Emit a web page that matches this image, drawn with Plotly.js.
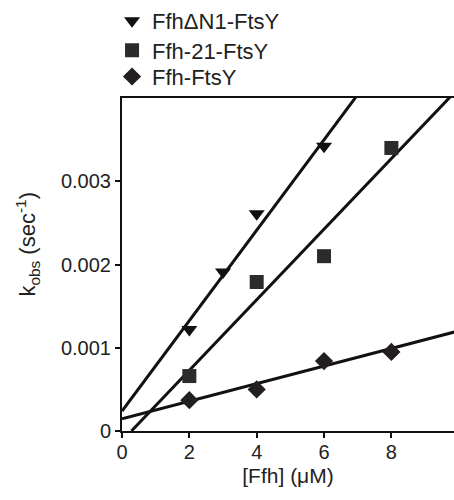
<!DOCTYPE html>
<html>
<head>
<meta charset="utf-8">
<script src="https://cdn.plot.ly/plotly-3.0.1.min.js"></script>
<style>html,body{margin:0;padding:0;background:#fff;}#chart{width:454px;height:500px;}</style>
</head>
<body>
<div id="chart"></div>
<script>
// Data
const seriesNames = ["Ffh\u0394N1-FtsY", "Ffh-21-FtsY", "Ffh-FtsY"];
const triX = [2, 3, 4, 6];
const triY = [0.00122, 0.00191, 0.00261, 0.00342];
const sqX = [2, 4, 6, 8];
const sqY = [0.00066, 0.00179, 0.00210, 0.00340];
const diaX = [2, 4, 6, 8];
const diaY = [0.00037, 0.00050, 0.00084, 0.00095];
// Fit lines (endpoints)
const fitTriX = [0, 10];
const fitTriY = [0.00024, 0.00567];
const fitSqX = [0.28, 10];
const fitSqY = [0.0, 0.00412];
const fitDiaX = [0, 10];
const fitDiaY = [0.000148, 0.001202];
const xTicks = [0, 2, 4, 6, 8];
const yTicks = [0, 0.001, 0.002, 0.003];
const yTickText = ["0", "0.001", "0.002", "0.003"];

const ink = "#222";
const fam = "Liberation Sans, Arial, Helvetica, sans-serif";
const tickFont = {family: fam, size: 20, color: ink};
const titleFont = {family: fam, size: 21, color: ink};
const legFont = {family: fam, size: 22, color: ink};

const lineStyle = {color: "#111", width: 3};
const traces = [
  {x: fitTriX, y: fitTriY, mode: "lines", line: lineStyle, showlegend: false, hoverinfo: "skip"},
  {x: fitSqX, y: fitSqY, mode: "lines", line: lineStyle, showlegend: false, hoverinfo: "skip"},
  {x: fitDiaX, y: fitDiaY, mode: "lines", line: lineStyle, showlegend: false, hoverinfo: "skip"},
  {x: triX, y: triY, mode: "markers", name: seriesNames[0], legend: "legend",
   marker: {symbol: "triangle-down", size: 14, color: "#111"}},
  {x: sqX, y: sqY, mode: "markers", name: seriesNames[1], legend: "legend2",
   marker: {symbol: "square", size: 14, color: "#2b2b2b"}},
  {x: diaX, y: diaY, mode: "markers", name: seriesNames[2], legend: "legend3",
   marker: {symbol: "diamond", size: 14, color: "#231f20"}}
];

function leg(y) {
  return {x: -0.03, xanchor: "left", y: y, yanchor: "middle",
          font: legFont, bgcolor: "rgba(0,0,0,0)", itemwidth: 30};
}

const layout = {
  width: 454, height: 500,
  margin: {l: 122, r: 0, t: 96, b: 69, pad: 0},
  paper_bgcolor: "#fff", plot_bgcolor: "#fff",
  font: tickFont,
  showlegend: true,
  legend: leg(1.233),
  legend2: leg(1.143),
  legend3: leg(1.064),
  xaxis: {
    range: [0, 9.86], tickvals: xTicks, ticktext: xTicks.map(String),
    showgrid: false, zeroline: false, showline: true, linecolor: "#111", linewidth: 2,
    mirror: true, ticks: "outside", ticklen: 5, tickwidth: 2, tickcolor: "#111",
    tickfont: tickFont, ticklabelstandoff: -3,
    title: {text: "[Ffh] (\u03bcM)", font: titleFont, standoff: 6}
  },
  yaxis: {
    range: [0, 0.004], tickvals: yTicks, ticktext: yTickText,
    showgrid: false, zeroline: false, showline: true, linecolor: "#111", linewidth: 2,
    ticks: "outside", ticklen: 5, tickwidth: 2, tickcolor: "#111",
    tickfont: tickFont
  },
  annotations: [{
    xref: "paper", yref: "paper", x: -0.285, y: 0.561,
    text: "k<sub>obs</sub> (sec<sup>-1</sup>)", textangle: -90,
    showarrow: false, font: {family: fam, size: 22, color: ink},
    xanchor: "center", yanchor: "middle"
  }]
};

Plotly.newPlot("chart", traces, layout, {displayModeBar: false, staticPlot: true});
</script>
</body>
</html>
